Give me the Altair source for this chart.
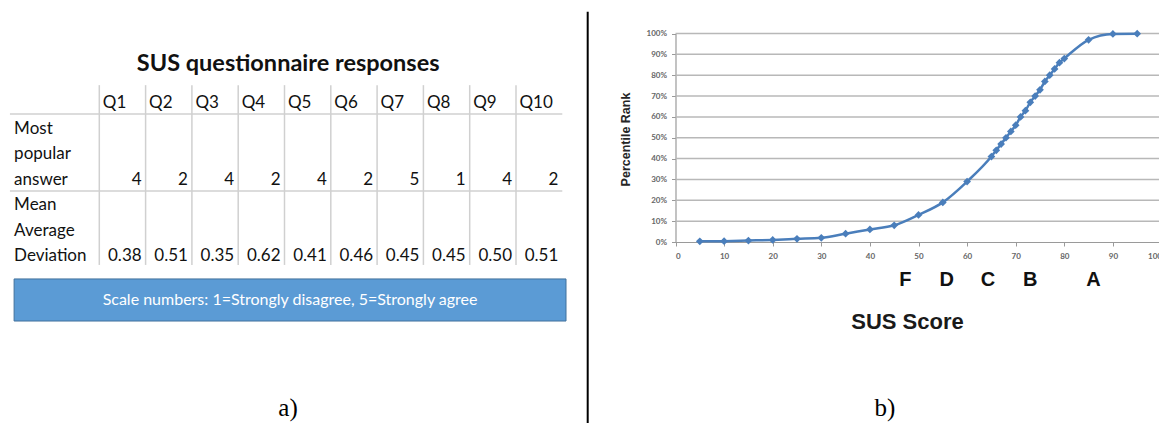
import altair as alt
import pandas as pd

# ---------------- data: panel a) table ----------------
table_title = ["SUS questionnaire responses"]
questions = ["Q1", "Q2", "Q3", "Q4", "Q5", "Q6", "Q7", "Q8", "Q9", "Q10"]
most_popular = ["4", "2", "4", "2", "4", "2", "5", "1", "4", "2"]
mean_avg_dev = ["0.38", "0.51", "0.35", "0.62", "0.41", "0.46", "0.45", "0.45", "0.50", "0.51"]
row_label_lines = ["Most", "popular", "answer", "Mean", "Average", "Deviation"]
scale_note = ["Scale numbers: 1=Strongly disagree, 5=Strongly agree"]

# ---------------- data: panel b) SUS curve ----------------
sus_scores = [5, 10, 15, 20, 25, 30, 35, 40, 45, 50, 55, 60, 65, 66, 67, 68, 69, 70,
              71, 72, 73, 74, 75, 76, 77, 78, 79, 80, 85, 90, 95]
percentile_rank = [0.003, 0.004, 0.007, 0.01, 0.015, 0.02, 0.04, 0.06, 0.08, 0.13, 0.19,
                   0.29, 0.41, 0.44, 0.47, 0.50, 0.53, 0.56, 0.60, 0.63, 0.67, 0.70,
                   0.73, 0.77, 0.80, 0.83, 0.86, 0.88, 0.97, 0.998, 0.999]
grade_letters = ["F", "D", "C", "B", "A"]
grade_scores = [47.3, 55.8, 64.3, 73.0, 86.0]
y_ticks = [0, 0.1, 0.2, 0.3, 0.4, 0.5, 0.6, 0.7, 0.8, 0.9, 1.0]
x_ticks = [0, 10, 20, 30, 40, 50, 60, 70, 80, 90, 100]
captions = ["a)", "b)"]

W, H = 1151, 415
TFONT = "Lato"

# ---------------- panel a) : table drawn on column/line scales ----------------
TX = alt.Scale(domain=[0, 10], range=[91.3, 554.3], nice=False, zero=False)
TY = alt.Scale(domain=[0, 6], range=[95, 248], nice=False, zero=False)


def tx(f):
    return alt.X(f, type="quantitative", scale=TX, axis=None)


def ty(f):
    return alt.Y(f, type="quantitative", scale=TY, axis=None)


n = len(questions)
hdr = pd.DataFrame({"t": questions, "c": list(range(n)), "l": [0] * n})
r1 = pd.DataFrame({"t": most_popular, "c": list(range(1, n + 1)), "l": [3] * n})
r2 = pd.DataFrame({"t": mean_avg_dev, "c": list(range(1, n + 1)), "l": [6] * n})
rl = pd.DataFrame({"t": row_label_lines, "c": [-1.84] * 6, "l": list(range(1, 7))})
hl = pd.DataFrame({"l": [0.43, 3.45], "c0": [-1.93, -1.93], "c1": [10, 10]})
vl = pd.DataFrame({"c": list(range(n)), "l0": [-0.7] * n, "l1": [6.35] * n})
box = pd.DataFrame({"c0": [-1.84], "c1": [10.08], "l0": [6.9], "l1": [8.55]})
note = pd.DataFrame({"t": scale_note, "c": [4.12], "l": [7.73]})
ttl = pd.DataFrame({"t": table_title, "c": [4.08], "l": [-1.53]})

t_hlines = alt.Chart(hl).mark_rule(color="#D0D0D0", strokeWidth=1.5).encode(
    x=tx("c0"), x2="c1", y=ty("l"))
t_vlines = alt.Chart(vl).mark_rule(color="#D0D0D0", strokeWidth=1.5).encode(
    x=tx("c"), y=ty("l0"), y2="l1")
t_hdr = alt.Chart(hdr).mark_text(align="left", baseline="middle", dx=3.5, font=TFONT,
                                 fontSize=17, color="#111").encode(
    x=tx("c"), y=ty("l"), text="t:N")
t_r1 = alt.Chart(r1).mark_text(align="right", baseline="middle", dx=-4, font=TFONT,
                               fontSize=17, color="#111").encode(
    x=tx("c"), y=ty("l"), text="t:N")
t_r2 = alt.Chart(r2).mark_text(align="right", baseline="middle", dx=-4, font=TFONT,
                               fontSize=17, color="#111").encode(
    x=tx("c"), y=ty("l"), text="t:N")
t_rl = alt.Chart(rl).mark_text(align="left", baseline="middle", font=TFONT,
                               fontSize=17, color="#111").encode(
    x=tx("c"), y=ty("l"), text="t:N")
t_box = alt.Chart(box).mark_rect(color="#5B9BD5", stroke="#41719C", strokeWidth=1).encode(
    x=tx("c0"), x2="c1", y=ty("l0"), y2="l1")
t_note = alt.Chart(note).mark_text(align="center", baseline="middle", font=TFONT,
                                   fontSize=16, color="white").encode(
    x=tx("c"), y=ty("l"), text="t:N")
t_title = alt.Chart(ttl).mark_text(align="center", baseline="middle", font=TFONT,
                                   fontSize=23.5, fontWeight="bold", color="#111").encode(
    x=tx("c"), y=ty("l"), text="t:N")

left = alt.layer(t_hlines, t_vlines, t_box, t_hdr, t_r1, t_r2, t_rl, t_note, t_title)

# ---------------- panel b) : SUS curve ----------------
RX = alt.Scale(domain=[0, 100], range=[667.5, 1153.5], nice=False, zero=False)
RY = alt.Scale(domain=[0, 1], range=[234, 25.5], nice=False, zero=False)

XAXIS = alt.Axis(orient="bottom", offset=-(H - 234), values=x_ticks, grid=False,
                 labelFont=TFONT, labelFontSize=8, labelFontWeight="bold",
                 labelColor="#666666", labelPadding=6, tickSize=4, tickColor="#9a9a9a",
                 domainColor="#9a9a9a", domainWidth=1.2,
                 title="SUS Score", titleFont="Liberation Sans", titleFontSize=22,
                 titleFontWeight="bold", titleColor="#1a1a1a", titleX=899, titleY=79,
                 titleAlign="center", titleBaseline="middle")
YAXIS = alt.Axis(orient="left", offset=-667.5, values=y_ticks, format=".0%", grid=False,
                 labelFont=TFONT, labelFontSize=8, labelFontWeight="bold",
                 labelColor="#666666", labelPadding=5, tickSize=4, tickColor="#9a9a9a",
                 domainColor="#9a9a9a", domainWidth=1.2,
                 title="Percentile Rank", titleFont="Liberation Sans", titleFontSize=12.5,
                 titleFontWeight="bold", titleColor="#262626", titleAngle=270,
                 titleX=-50, titleY=131, titleAlign="center", titleBaseline="middle")

curve = pd.DataFrame({"score": sus_scores, "pct": percentile_rank})
gdf = pd.DataFrame({"g": y_ticks[1:], "x0": [0] * 10, "x1": [100] * 10})
grades = pd.DataFrame({"g": grade_letters, "s": grade_scores, "b": [0] * 5})

r_grid = alt.Chart(gdf).mark_rule(color="#B8B8B8", strokeWidth=1.5).encode(
    x=alt.X("x0:Q", scale=RX, axis=XAXIS), x2="x1",
    y=alt.Y("g:Q", scale=RY, axis=YAXIS))
r_line = alt.Chart(curve).mark_line(color="#4A7EBB", strokeWidth=2.5,
                                    interpolate="monotone").encode(
    x=alt.X("score:Q", scale=RX, axis=XAXIS),
    y=alt.Y("pct:Q", scale=RY, axis=YAXIS))
r_pts = alt.Chart(curve).mark_point(shape="diamond", filled=True, size=60, opacity=1,
                                    color="#4A7EBB").encode(
    x=alt.X("score:Q", scale=RX, axis=XAXIS),
    y=alt.Y("pct:Q", scale=RY, axis=YAXIS))
r_grades = alt.Chart(grades).mark_text(font="Liberation Sans", fontWeight="bold",
                                       fontSize=20, dy=38, baseline="middle",
                                       color="#111").encode(
    x=alt.X("s:Q", scale=RX, axis=XAXIS),
    y=alt.Y("b:Q", scale=RY, axis=YAXIS),
    text="g:N")

right = alt.layer(r_grid, r_line, r_pts, r_grades)

# ---------------- annotations: divider and captions ----------------
div = alt.Chart(pd.DataFrame({"d": [0]})).mark_rule(color="black", strokeWidth=2).encode(
    x=alt.value(579.7), y=alt.value(3.7), y2=alt.value(H))
cap_a = alt.Chart(pd.DataFrame({"t": [captions[0]]})).mark_text(
    font="Liberation Serif", fontSize=25, color="black", baseline="middle").encode(
    x=alt.value(280), y=alt.value(400), text="t:N")
cap_b = alt.Chart(pd.DataFrame({"t": [captions[1]]})).mark_text(
    font="Liberation Serif", fontSize=25, color="black", baseline="middle").encode(
    x=alt.value(877), y=alt.value(400), text="t:N")

chart = alt.layer(right, left, div, cap_a, cap_b).resolve_scale(
    x="independent", y="independent"
).properties(
    width=W, height=H, padding=0, autosize=alt.AutoSizeParams(type="none")
).configure_view(stroke=None)

chart.save("out.html", embed_options={"renderer": "svg", "actions": False})
